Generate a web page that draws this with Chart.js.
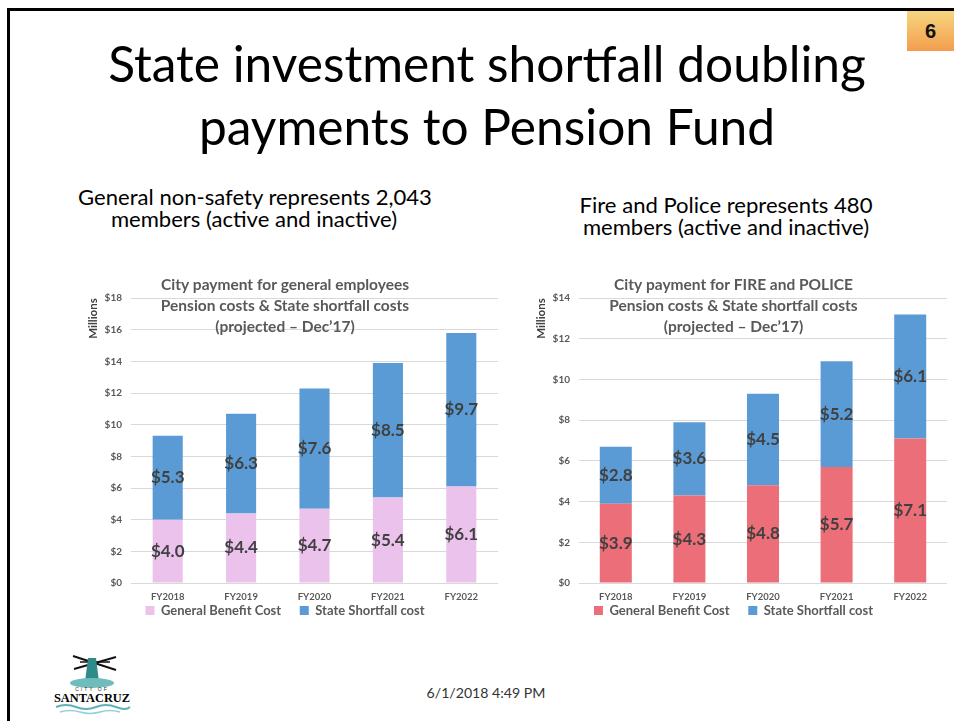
<!DOCTYPE html>
<html>
<head>
<meta charset="utf-8">
<script src="https://cdn.jsdelivr.net/npm/chart.js@4.4.1/dist/chart.umd.min.js"></script>
<style>
  html, body { margin: 0; padding: 0; background: #ffffff; }
  body { width: 954px; height: 721px; position: relative; overflow: hidden; font-family: Lato, "Liberation Sans", sans-serif; }
  .frame { position: absolute; left: 7px; top: 8px; width: 1000px; height: 800px; border-top: 3px solid #000; border-left: 3px solid #000; }
  .txt { position: absolute; white-space: nowrap; color: #000; line-height: 1.2; }
  .badge { position: absolute; left: 907px; top: 11px; width: 47px; height: 40px;
           background: linear-gradient(#f6d680, #f39d4d); font: bold 20px "Liberation Sans", Arial, sans-serif;
           text-align: center; line-height: 40px; color: #111; }
  .chartbox { position: absolute; top: 270px; }
  .logo { position: absolute; left: 50px; top: 648px; }
</style>
</head>
<body>
<div class="frame"></div>
<div class="badge">6</div>

<div class="txt" id="t1">State investment shortfall doubling</div>
<div class="txt" id="t2">payments to Pension Fund</div>
<div class="txt" id="s1">General non-safety represents 2,043</div>
<div class="txt" id="s2">members (active and inactive)</div>
<div class="txt" id="s3">Fire and Police represents 480</div>
<div class="txt" id="s4">members (active and inactive)</div>
<div class="txt" id="foot" style="color:#333">6/1/2018 4:49 PM</div>

<div class="chartbox" style="left:72px"><canvas id="chartGeneral" width="426" height="357"></canvas></div>
<div class="chartbox" style="left:520px"><canvas id="chartFire" width="427" height="357"></canvas></div>

<svg class="logo" width="85" height="70" viewBox="0 0 85 70">
  <line x1="23" y1="8" x2="66" y2="22" stroke="#111" stroke-width="2"/>
  <line x1="24" y1="21" x2="66" y2="9" stroke="#111" stroke-width="2"/>
  <line x1="30" y1="14" x2="60" y2="14" stroke="#111" stroke-width="1.5"/>
  <polygon points="38,10 46,10 49,34 35,34" fill="#2f8a8a"/>
  <ellipse cx="42" cy="35" rx="22" ry="5" fill="#6fbcbc"/>
  <text x="42" y="43" font-size="5" text-anchor="middle" font-family="Liberation Sans" fill="#333" letter-spacing="2">CITY OF</text>
  <text x="42" y="54" font-size="13" font-weight="bold" text-anchor="middle" font-family="Liberation Serif" fill="#000" textLength="76" lengthAdjust="spacingAndGlyphs">SANTACRUZ</text>
  <path d="M6 59 Q16 55 26 59 T46 59 T66 59 T80 59" stroke="#5fb0b8" stroke-width="2" fill="none"/>
  <path d="M10 64 Q20 61 30 64 T50 64 T70 64" stroke="#8fcfd6" stroke-width="1.5" fill="none"/>
</svg>

<script>
// ---------- data ----------
const categories = ['FY2018', 'FY2019', 'FY2020', 'FY2021', 'FY2022'];
const generalBenefitCost = [4.0, 4.4, 4.7, 5.4, 6.1];
const generalShortfallCost = [5.3, 6.3, 7.6, 8.5, 9.7];
const firePoliceBenefitCost = [3.9, 4.3, 4.8, 5.7, 7.1];
const firePoliceShortfallCost = [2.8, 3.6, 4.5, 5.2, 6.1];
const seriesNames = ['General Benefit Cost', 'State Shortfall cost'];
const generalChartTitle = ['City payment for general employees', 'Pension costs & State shortfall costs', '(projected \u2013 Dec\u201917)'];
const fireChartTitle = ['City payment for FIRE and POLICE', 'Pension costs & State shortfall costs', '(projected \u2013 Dec\u201917)'];
const generalAxisMax = 18;
const fireAxisMax = 14;
const axisStep = 2;
const axisTitle = 'Millions';

// ---------- slide text placement ----------
function measure(el, fs) {
  el.style.fontSize = fs + 'px';
  el.style.left = '0px'; el.style.top = '0px';
  return el.getBoundingClientRect().width;
}
function place(id, cx, baseline, fs) {
  const el = document.getElementById(id);
  const w = measure(el, fs);
  const mk = document.createElement('span');
  mk.style.display = 'inline-block'; mk.style.width = '0'; mk.style.height = '0';
  el.appendChild(mk);
  const off = mk.getBoundingClientRect().top - el.getBoundingClientRect().top;
  el.removeChild(mk);
  el.style.left = (cx - w / 2) + 'px';
  el.style.top = (baseline - off) + 'px';
}
function fitSize(id, targetW) {
  const el = document.getElementById(id);
  const w = measure(el, 100);
  return 100 * targetW / w;
}
const titleFs = fitSize('t1', 758);
place('t1', 487, 82, titleFs);
place('t2', 487, 145, titleFs);
const subFs = fitSize('s1', 354);
place('s1', 255, 205, subFs);
place('s2', 254, 227, subFs);
place('s3', 726, 213, subFs);
place('s4', 726, 235, subFs);
place('foot', 486, 698, fitSize('foot', 119));

// ---------- charts ----------
const FONT = 'Lato, "Liberation Sans", sans-serif';
const segmentLabels = {
  id: 'segmentLabels',
  afterDatasetsDraw(chart) {
    const ctx = chart.ctx;
    ctx.save();
    ctx.font = 'bold 17px ' + FONT;
    ctx.fillStyle = '#404040';
    ctx.textAlign = 'center';
    ctx.textBaseline = 'middle';
    chart.data.datasets.forEach((ds, i) => {
      const meta = chart.getDatasetMeta(i);
      meta.data.forEach((bar, j) => {
        ctx.fillText('$' + ds.data[j].toFixed(1), bar.x, (bar.y + bar.base) / 2);
      });
    });
    ctx.restore();
  }
};

function legendItems(chart) {
  const items = Chart.defaults.plugins.legend.labels.generateLabels(chart);
  items.forEach((it, i) => { if (i < items.length - 1) it.text += '\u2002\u2002\u2009'; });
  return items;
}

function makeChart(canvasId, benefit, shortfall, benefitColor, titleLines, axisMax, barPct) {
  return new Chart(document.getElementById(canvasId), {
    type: 'bar',
    data: {
      labels: categories,
      datasets: [
        { label: seriesNames[0], data: benefit, backgroundColor: benefitColor, borderWidth: 0,
          categoryPercentage: 1, barPercentage: barPct },
        { label: seriesNames[1], data: shortfall, backgroundColor: '#5b9bd5', borderWidth: 0,
          categoryPercentage: 1, barPercentage: barPct }
      ]
    },
    options: {
      responsive: false,
      animation: false,
      layout: { padding: 0 },
      plugins: {
        title: {
          display: true,
          text: titleLines,
          color: '#595959',
          font: { family: FONT, size: 15.5, weight: 'bold', lineHeight: 1.36 },
          padding: { top: 4, bottom: -39 }
        },
        legend: {
          position: 'bottom',
          labels: {
            boxWidth: 9, boxHeight: 9, padding: 4,
            color: '#595959',
            font: { family: FONT, size: 13, weight: 'bold' },
            generateLabels: legendItems
          }
        },
        tooltip: { enabled: false }
      },
      scales: {
        x: {
          stacked: true,
          grid: { display: false, drawTicks: false },
          border: { display: false },
          ticks: { color: '#595959', padding: 8,
                   font: { family: FONT, size: 9.5, weight: 'bold' } },
          afterFit: s => { s.height = 17; }
        },
        y: {
          stacked: true,
          min: 0, max: axisMax,
          grid: { color: '#d9d9d9', lineWidth: 1, drawTicks: false },
          border: { display: false },
          ticks: { stepSize: axisStep, color: '#595959', padding: 9,
                   font: { family: FONT, size: 10, weight: 'bold' },
                   callback: v => '$' + v },
          title: { display: true, text: axisTitle, align: 'end', color: '#404040',
                   font: { family: FONT, size: 11.5, weight: 'bold' },
                   padding: { top: 14, bottom: 0 } },
          afterFit: s => { s.width = 59; }
        }
      }
    },
    plugins: [segmentLabels]
  });
}

makeChart('chartGeneral', generalBenefitCost, generalShortfallCost, '#ebc2ec', generalChartTitle, generalAxisMax, 0.41);
makeChart('chartFire', firePoliceBenefitCost, firePoliceShortfallCost, '#ec6e78', fireChartTitle, fireAxisMax, 0.435);
</script>
</body>
</html>
